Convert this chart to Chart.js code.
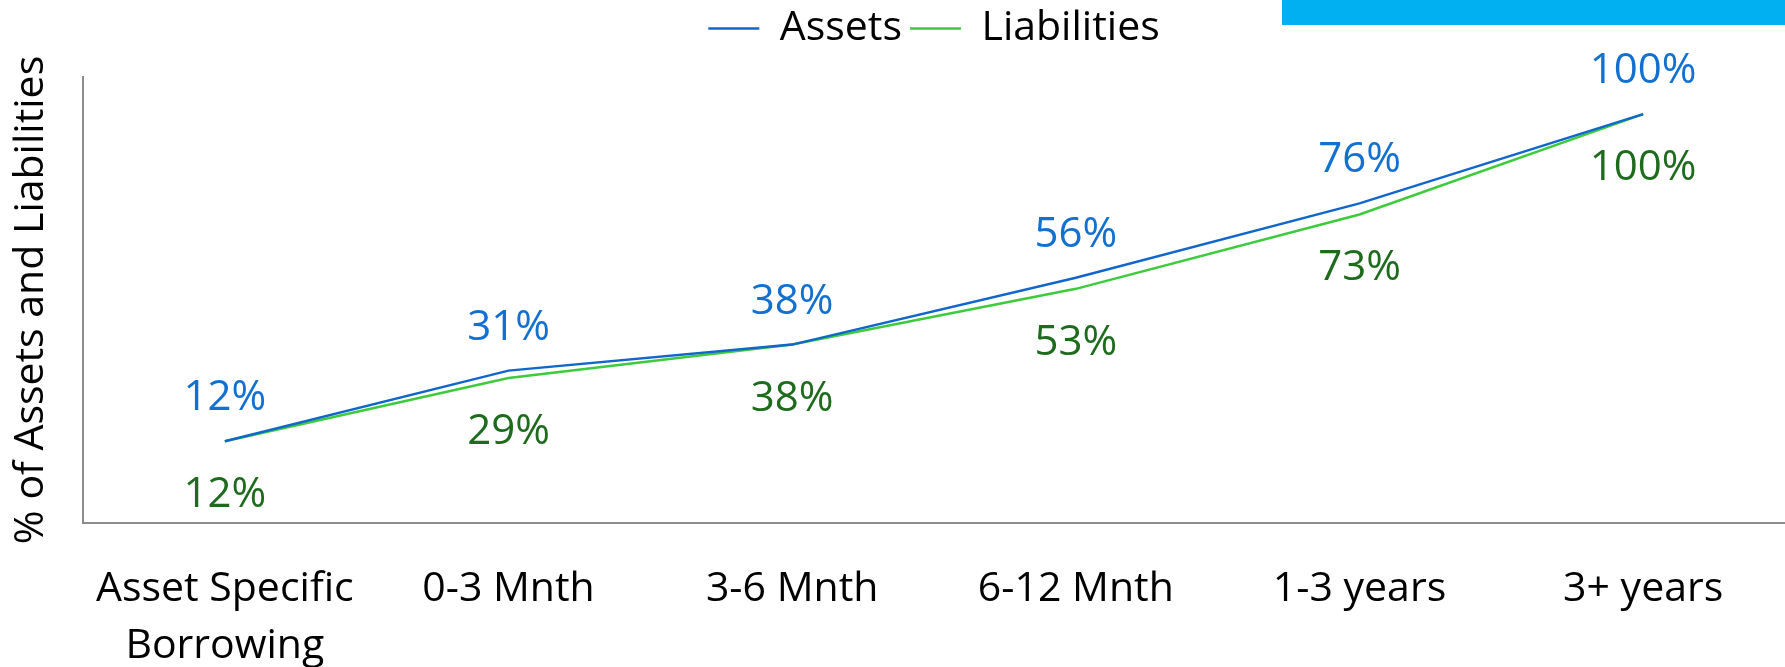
<!DOCTYPE html>
<html>
<head>
<meta charset="utf-8">
<script src="https://cdn.jsdelivr.net/npm/chart.js@4/dist/chart.umd.min.js"></script>
<style>
  html, body { margin: 0; padding: 0; background: #ffffff; }
  #wrap { position: relative; width: 1785px; height: 667px; overflow: hidden; }
  #band { position: absolute; left: 1282px; top: 0; width: 503px; height: 25px; background: #00B0F0; }
  canvas { position: absolute; left: 0; top: 0; }
</style>
</head>
<body>
<div id="wrap">
  <canvas id="c" width="1785" height="667"></canvas>
  <div id="band"></div>
</div>
<script>
// ---- data ----
const categories = [["Asset Specific", "Borrowing"], "0-3 Mnth", "3-6 Mnth", "6-12 Mnth", "1-3 years", "3+ years"];
const assetsValues = [12, 31, 38, 56, 76, 100];
const liabilitiesValues = [12, 29, 38, 53, 73, 100];
const seriesNames = ["Assets", "Liabilities"];
const yAxisTitle = "% of Assets and Liabilities";
const yMin = -10;
const yMax = 110;

const FONT = "'Open Sans', Lato, 'Liberation Sans', sans-serif";

const pointLabels = {
  id: 'pointLabels',
  afterDatasetsDraw(chart, args, opts) {
    const ctx = chart.ctx;
    ctx.save();
    ctx.font = opts.size + 'px ' + FONT;
    ctx.textAlign = 'center';
    ctx.textBaseline = 'middle';
    chart.data.datasets.forEach((ds, di) => {
      const meta = chart.getDatasetMeta(di);
      const cfg = opts.series[di];
      meta.data.forEach((el, i) => {
        ctx.fillStyle = cfg.color;
        ctx.fillText(ds.data[i] + '%', el.x, el.y + cfg.offset);
      });
    });
    ctx.restore();
  }
};

const legendHeight = {
  id: 'legendHeight',
  beforeUpdate(chart) {
    const lg = chart.legend;
    if (lg && !lg._patched) {
      const orig = lg.fit;
      lg.fit = function () { orig.call(this); this.height = 77; };
      lg._patched = true;
    }
  }
};

new Chart(document.getElementById('c'), {
  type: 'line',
  data: {
    labels: categories,
    datasets: [
      { label: seriesNames[0], data: assetsValues, borderColor: '#1166CC', backgroundColor: '#1166CC',
        borderWidth: 2.5, pointRadius: 0, tension: 0, fill: false },
      { label: seriesNames[1], data: liabilitiesValues, borderColor: '#3CCB3C', backgroundColor: '#3CCB3C',
        borderWidth: 2.5, pointRadius: 0, tension: 0, fill: false }
    ]
  },
  options: {
    responsive: false,
    animation: false,
    devicePixelRatio: 1,
    layout: { padding: 0 },
    plugins: {
      tooltip: { enabled: false },
      legend: {
        display: true,
        position: 'top',
        fullSize: false,
        labels: {
          usePointStyle: true,
          pointStyle: 'line',
          pointStyleWidth: 51,
          padding: 8,
          color: '#000000',
          font: { family: FONT, size: 41 }
        }
      },
      pointLabels: {
        size: 42,
        series: [
          { color: '#1170D0', offset: -43 },
          { color: '#1E6B1E', offset: 54 }
        ]
      }
    },
    scales: {
      x: {
        offset: true,
        grid: { display: false, drawTicks: false },
        border: { display: true, color: '#8C8C8C', width: 2 },
        ticks: {
          color: '#000000',
          font: { family: FONT, size: 41, lineHeight: 1.39 },
          padding: 38,
          maxRotation: 0,
          autoSkip: false
        },
        afterFit(scale) { scale.height = 144; }
      },
      y: {
        min: yMin,
        max: yMax,
        grid: { display: false, drawTicks: false },
        border: { display: true, color: '#8C8C8C', width: 2 },
        ticks: { display: false },
        title: {
          display: true,
          text: yAxisTitle,
          color: '#000000',
          font: { family: FONT, size: 41, lineHeight: 1.2 },
          padding: { top: 7, bottom: 0 }
        },
        afterFit(scale) { scale.width = 83; }
      }
    }
  },
  plugins: [pointLabels, legendHeight]
});
</script>
</body>
</html>
